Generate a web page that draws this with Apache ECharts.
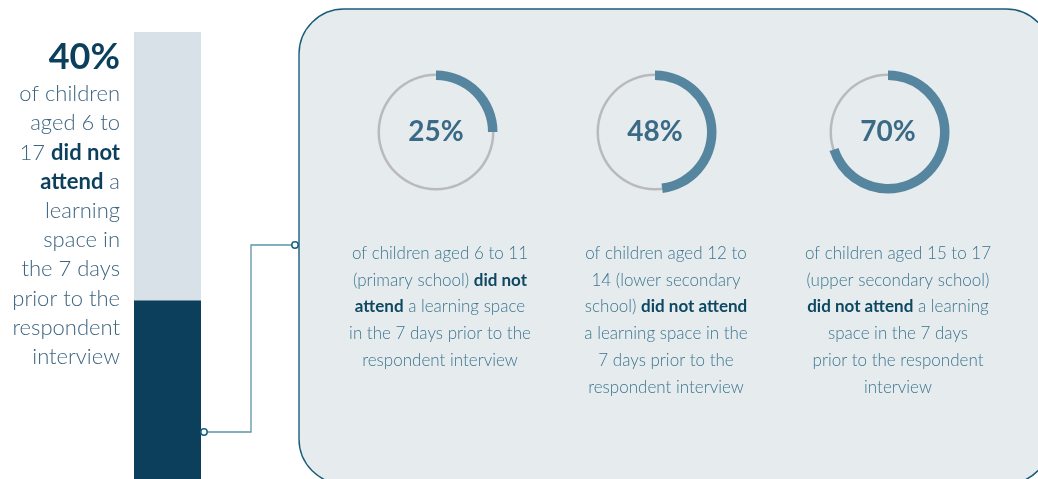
<!DOCTYPE html>
<html>
<head>
<meta charset="utf-8">
<script src="https://cdn.jsdelivr.net/npm/echarts@6/dist/echarts.min.js"></script>
<style>
  html, body { margin: 0; padding: 0; background: #fff; }
  #chart { width: 1038px; height: 479px; }
</style>
</head>
<body>
<div id="chart"></div>
<script>
// overall share of children aged 6-17 who did not attend a learning space
const overallPct = 40;
const overallLines = [
  "of children", "aged 6 to", "17 {b|did not}", "{b|attend} a", "learning",
  "space in", "the 7 days", "prior to the", "respondent", "interview",
];
// breakdown by school level
const groupPct = [25, 48, 70];
const groupCaptions = [
  ["of children aged 6 to 11", "(primary school) {b|did not}", "{b|attend} a learning space",
   "in the 7 days prior to the", "respondent interview"],
  ["of children aged 12 to", "14 (lower secondary", "school) {b|did not attend}",
   "a learning space in the", "7 days prior to the", "respondent interview"],
  ["of children aged 15 to 17", "(upper secondary school)", "{b|did not attend} a learning",
   "space in the 7 days", "prior to the respondent", "interview"],
];

const FONT = "Lato, 'Noto Sans', sans-serif";
const NAVY = "#0c3f5c", PALE = "#d9e1e8", ARC = "#56869f", RING = "#b9babc";
const PANEL_FILL = "#e6ebee", PANEL_LINE = "#1b5d79";
const centersX = [436, 655, 888], centerY = 132;
const captionX = [440, 666, 898];

const chart = echarts.init(document.getElementById("chart"), null, { renderer: "canvas" });

const series = [
  { type: "bar", stack: "all", barWidth: "100%", silent: true,
    itemStyle: { color: NAVY }, data: [overallPct] },
  { type: "bar", stack: "all", barWidth: "100%", silent: true,
    itemStyle: { color: PALE }, data: [100 - overallPct] },
];
groupPct.forEach((v, i) => {
  series.push({
    type: "pie", silent: true, center: [centersX[i], centerY], radius: [56, 58.5],
    label: { show: false }, labelLine: { show: false }, z: 2,
    data: [{ value: 1, itemStyle: { color: RING } }],
  });
  series.push({
    type: "pie", silent: true, center: [centersX[i], centerY], radius: [52, 61.5],
    startAngle: 90, clockwise: true, avoidLabelOverlap: false, z: 3,
    labelLine: { show: false },
    data: [
      { value: v, itemStyle: { color: ARC },
        label: { show: true, position: "center", formatter: v + "%",
          fontFamily: FONT, fontWeight: "bold", fontSize: 28, color: "#3a6a86" } },
      { value: 100 - v, itemStyle: { color: "rgba(0,0,0,0)" }, label: { show: false } },
    ],
  });
});

const bodyStyle = (x, y, lines, align, size, lh, color, boldColor, weight) => ({
  type: "text", z: 5,
  style: {
    x, y, text: lines.join("\n"), textAlign: align, textVerticalAlign: "top",
    fontFamily: FONT, fontSize: size, fontWeight: weight, lineHeight: lh, fill: color,
    rich: { b: { fontFamily: FONT, fontSize: size, fontWeight: "bold", lineHeight: lh, fill: boldColor } },
  },
});

const graphic = [
  // rounded panel
  { type: "rect", z: -10, shape: { x: 299, y: 9, width: 752, height: 475, r: 45 },
    style: { fill: PANEL_FILL, stroke: PANEL_LINE, lineWidth: 1.4 } },
  // connector from bar to panel
  { type: "polyline", z: 4, shape: { points: [[207, 432], [251, 432], [251, 245], [292, 245]] },
    style: { stroke: "#5f93a8", lineWidth: 1.3, fill: null } },
  { type: "circle", z: 5, shape: { cx: 204, cy: 432, r: 3.2 },
    style: { fill: "#fff", stroke: "#1b6280", lineWidth: 1.5 } },
  { type: "circle", z: 5, shape: { cx: 295, cy: 245, r: 3.2 },
    style: { fill: "#fff", stroke: "#1b6280", lineWidth: 1.5 } },
  // headline figure
  { type: "text", z: 5, style: { x: 120, y: 57, text: overallPct + "%", textAlign: "right",
    textVerticalAlign: "middle", fontFamily: FONT, fontWeight: "bold", fontSize: 36, fill: NAVY } },
  bodyStyle(120, 79.5, overallLines, "right", 22, 29.2, "#3d6580", NAVY, 300),
];
groupCaptions.forEach((lines, i) => {
  graphic.push(bodyStyle(captionX[i], 240, lines, "center", 17, 26.8, "#3b7690", "#0d4862", 300));
});

chart.setOption({
  animation: false,
  grid: { left: 134, width: 67, top: 32, bottom: 0 },
  xAxis: { type: "category", data: ["all"], show: false },
  yAxis: { type: "value", min: 0, max: 100, show: false },
  graphic,
  series,
});
</script>
</body>
</html>
